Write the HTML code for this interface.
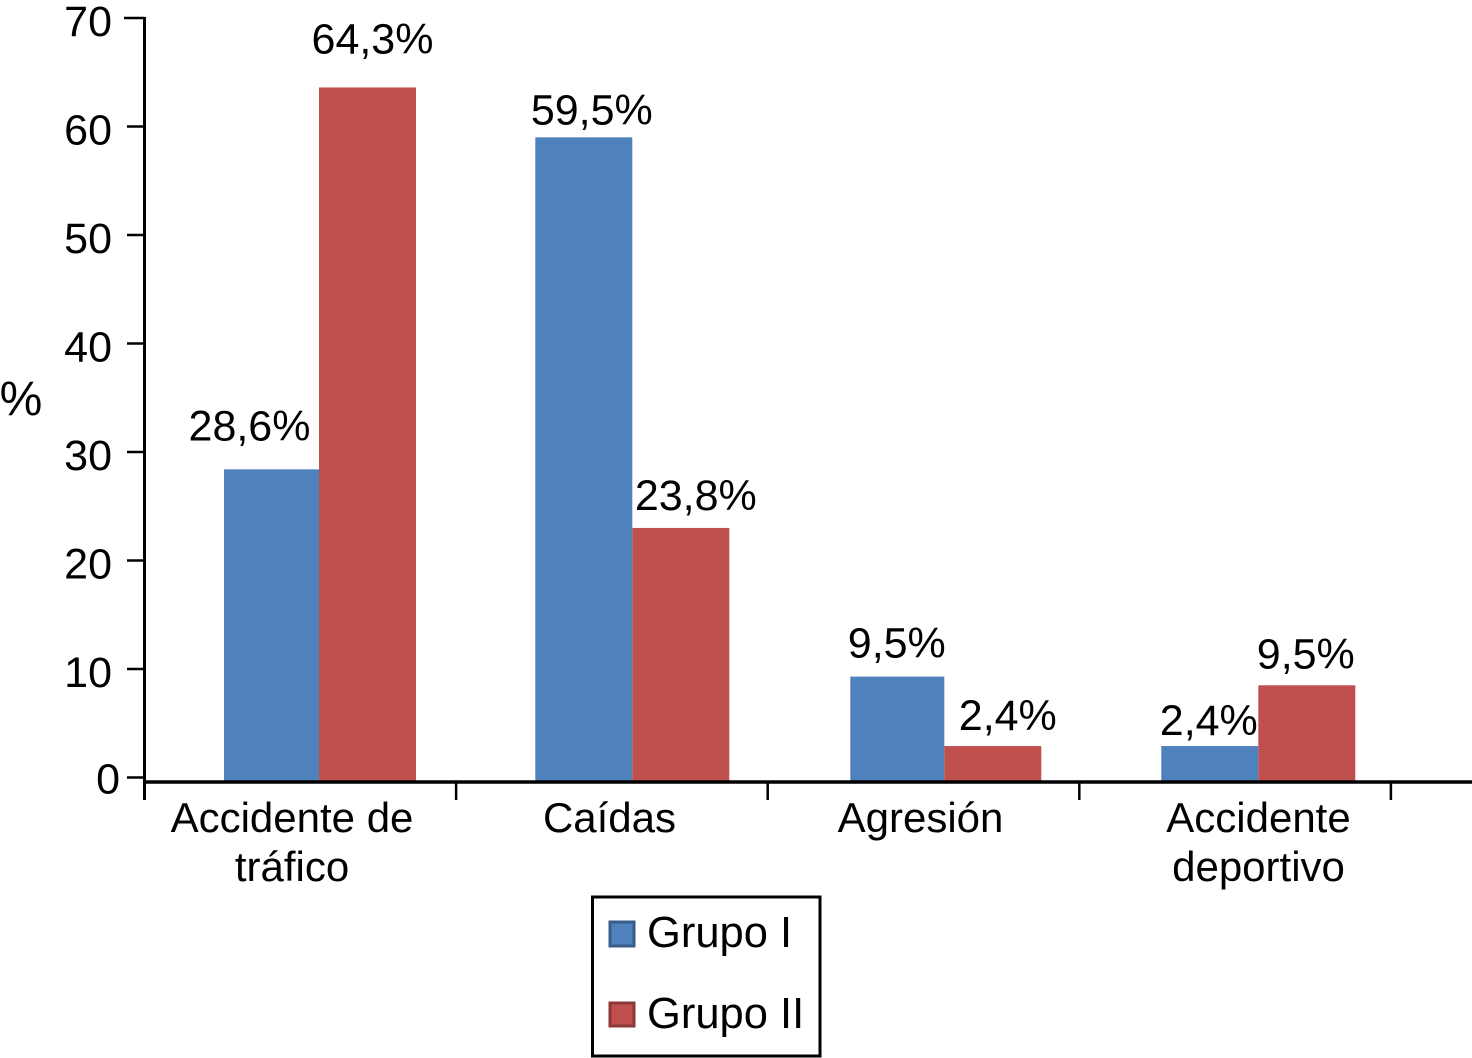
<!DOCTYPE html>
<html lang="es">
<head>
<meta charset="utf-8">
<title>Grupo I y Grupo II</title>
<style>
html,body{margin:0;padding:0;background:#fff;width:1472px;height:1058px;overflow:hidden}
svg{display:block}
text{font-family:"Liberation Sans",Arial,sans-serif;font-size:43px;fill:#000}
text.cat{font-size:42px}
text.leg{font-size:43.5px}
</style>
</head>
<body>
<svg id="chart" xmlns="http://www.w3.org/2000/svg" width="1472" height="1058" viewBox="0 0 1472 1058">
  <g id="bars"></g>
  <g id="axes"></g>
  <g id="labels"></g>
  <text x="21" y="415" text-anchor="middle" style="font-size:48px">%</text>
  <g>
    <rect x="592.5" y="897" width="227.5" height="159" fill="#fff" stroke="#000" stroke-width="3"/>
    <rect x="610" y="922" width="24" height="24" fill="#4f81bd" stroke="#385d8a" stroke-width="3"/>
    <text class="leg" x="647" y="947">Grupo I</text>
    <rect x="610" y="1003" width="24" height="23" fill="#c0504d" stroke="#8c3836" stroke-width="3"/>
    <text class="leg" x="647" y="1028">Grupo II</text>
  </g>
</svg>
<script>
const categories = [["Accidente de", "tráfico"], ["Caídas"], ["Agresión"], ["Accidente", "deportivo"]];
const grupo1Values = [28.4, 59.0, 9.3, 2.9];
const grupo2Values = [63.6, 23.0, 2.9, 8.5];
const grupo1Labels = ["28,6%", "59,5%", "9,5%", "2,4%"];
const grupo2Labels = ["64,3%", "23,8%", "2,4%", "9,5%"];
const yTicks = [0, 10, 20, 30, 40, 50, 60, 70];

/* layout nudges, separate from the data */
const catDx = [-27.3, -22.8, -24.8, 0.2];
const centerDx = [-0.3, 0, -1, 0];
const blueW = [95, 97, 94, 97];
const g1Nudge = [[-21, -29], [8, -13], [1, -19], [-1, -11]];
const g2Nudge = [[5, -34], [15, -18], [15, -16], [-1, -17]];

const NS = 'http://www.w3.org/2000/svg';
const axisX = 144.5, axisY = 782, tickBand = 311.6, barBand = 313, barW = 97;
const firstBarCenter = 319.3;
const y0 = 777.5, unit = 108.5 / 10;
const yScale = v => y0 - v * unit;
const bandCenter = i => firstBarCenter + barBand * i + centerDx[i];

function make(tag, parent, attrs, txt) {
  const el = document.createElementNS(NS, tag);
  Object.keys(attrs).forEach(k => el.setAttribute(k, attrs[k]));
  if (txt !== undefined) el.textContent = txt;
  parent.appendChild(el);
  return el;
}
const barsG = document.getElementById('bars');
const axesG = document.getElementById('axes');
const labelsG = document.getElementById('labels');

categories.forEach((cat, i) => {
  const c = bandCenter(i);
  const h1 = yScale(grupo1Values[i]);
  const h2 = yScale(grupo2Values[i]);
  const b1 = make('rect', barsG, {x: c - blueW[i], y: h1, width: blueW[i], height: axisY - h1, fill: '#4f81bd'});
  
  
  const b2 = make('rect', barsG, {x: c, y: h2, width: barW, height: axisY - h2, fill: '#c0504d'});
  
  
  const l1 = make('text', labelsG, {x: c - barW / 2 + g1Nudge[i][0], y: h1 + g1Nudge[i][1], 'text-anchor': 'middle'}, grupo1Labels[i]);
  
  
  const l2 = make('text', labelsG, {x: c + barW / 2 + g2Nudge[i][0], y: h2 + g2Nudge[i][1], 'text-anchor': 'middle'}, grupo2Labels[i]);
  
  
  cat.forEach((line, j) => {
    const t = make('text', axesG, {x: firstBarCenter + barBand * i + catDx[i], y: 832 + j * 49, 'text-anchor': 'middle', class: 'cat'}, line);
    
    
  });
});

const yLine = make('line', axesG, {x1: axisX, x2: axisX, y1: 17, y2: 800, stroke: '#000', 'stroke-width': 3});


const xLine = make('line', axesG, {x1: axisX, x2: 1472, y1: axisY, y2: axisY, stroke: '#000', 'stroke-width': 3.5});



yTicks.forEach(v => {
  const y = yScale(v);
  const tk = make('line', axesG, {x1: v === yTicks[yTicks.length - 1] ? 124 : 127, x2: axisX, y1: y, y2: y, stroke: '#000', 'stroke-width': 2.5});
  
  
  const lb = make('text', axesG, {x: v === 0 ? 120 : 112, y: y + (v === 0 ? 16 : 18), 'text-anchor': 'end'}, String(v));
  
  
});

for (let i = 1; i <= categories.length; i++) {
  const x = axisX + tickBand * i;
  const tk = make('line', axesG, {x1: x, x2: x, y1: axisY, y2: 800, stroke: '#000', 'stroke-width': 2.5});
  
  
}
</script>
</body>
</html>
